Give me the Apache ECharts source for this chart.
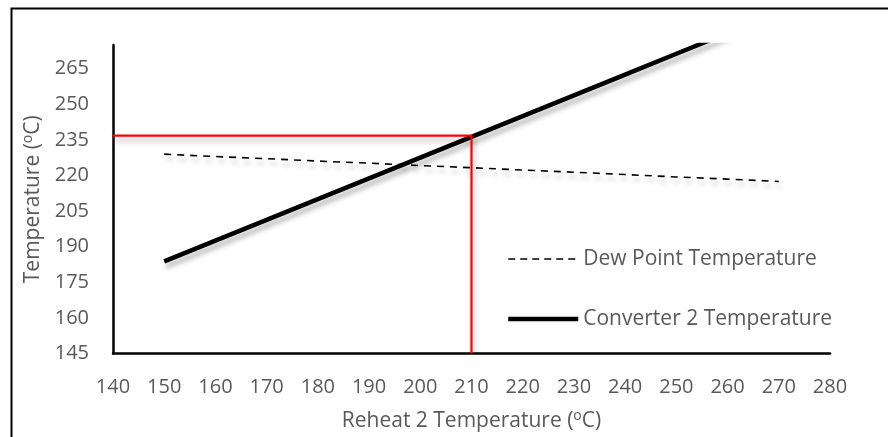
<!DOCTYPE html>
<html>
<head>
<meta charset="utf-8">
<script src="https://cdn.jsdelivr.net/npm/echarts@6/dist/echarts.min.js"></script>
<style>
html,body{margin:0;padding:0;background:#fff;}
#chart{width:888px;height:437px;}
</style>
</head>
<body>
<div id="chart"></div>
<script>
// Reheat 2 temperature (x, °C)
const reheatTemps = [150, 160, 170, 180, 190, 200, 210, 220, 230, 240, 250, 260, 270];
// Dew point temperature (°C)
const dewPoint = [229.0, 228.0, 227.1, 226.1, 225.2, 224.2, 223.3, 222.3, 221.4, 220.4, 219.4, 218.5, 217.5];
// Converter 2 temperature (°C)
const converter2 = [183.8, 192.55, 201.3, 210.05, 218.8, 227.55, 236.3, 245.05, 253.8, 262.55, 271.3, 280.05, 288.8];
// Red guide: operating point
const guideX = [140, 210, 210];
const guideY = [236.8, 236.8, 145];

const seriesNames = ['Dew Point Temperature', 'Converter 2 Temperature'];
const textColor = '#595959';
const fontFam = '"Open Sans", "Liberation Sans", sans-serif';

const pair = (xs, ys) => xs.map((x, i) => [x, ys[i]]);
const shadow = {shadowColor: 'rgba(0,0,0,0.28)', shadowBlur: 5, shadowOffsetX: 2, shadowOffsetY: 5};
const supRich = {s: {fontSize: 14, color: textColor, fontFamily: fontFam, padding: [0, 0, 10, 0]}};

const chart = echarts.init(document.getElementById('chart'), null, {renderer: 'canvas'});
chart.setOption({
  animation: false,
  backgroundColor: '#fff',
  textStyle: {fontFamily: fontFam},
  graphic: [{
    type: 'rect', left: 9, top: 6, silent: true,
    shape: {width: 1000, height: 1000},
    style: {fill: 'none', stroke: '#000', lineWidth: 2}
  }],
  grid: {left: 113, right: 58, top: 45, bottom: 81, containLabel: false},
  legend: {
    data: [
      {name: seriesNames[0], lineStyle: {width: 1.6, type: [7, 5], color: '#000'}},
      {name: seriesNames[1], lineStyle: {width: 4.5, color: '#000'}}
    ],
    orient: 'vertical',
    left: 501, top: 243,
    itemWidth: 70, itemHeight: 14, itemGap: 38,
    itemStyle: {opacity: 0},
    textStyle: {color: textColor, fontSize: 21, fontFamily: fontFam, lineHeight: 22},
    selectedMode: false
  },
  xAxis: {
    type: 'value', min: 140, max: 280, interval: 10,
    name: 'Reheat 2 Temperature ({s|o}C)',
    nameLocation: 'middle', nameGap: 56,
    nameTextStyle: {color: textColor, fontSize: 21, fontFamily: fontFam, rich: supRich},
    axisLine: {show: true, onZero: false, lineStyle: {color: '#000', width: 2.5}},
    axisTick: {show: false},
    splitLine: {show: false},
    axisLabel: {color: textColor, fontSize: 20, fontFamily: fontFam, margin: 24}
  },
  yAxis: {
    type: 'value', min: 145, max: 275, interval: 15,
    name: 'Temperature ({s|o}C)',
    nameLocation: 'middle', nameGap: 67,
    nameTextStyle: {color: textColor, fontSize: 21, fontFamily: fontFam, rich: supRich},
    axisLine: {show: true, onZero: false, lineStyle: {color: '#000', width: 2.5}},
    axisTick: {show: false},
    splitLine: {show: false},
    axisLabel: {color: textColor, fontSize: 20, fontFamily: fontFam, margin: 24, showMaxLabel: false}
  },
  series: [
    {
      name: seriesNames[0], type: 'line', symbol: 'none', showSymbol: false,
      data: pair(reheatTemps, dewPoint),
      lineStyle: Object.assign({color: '#000', width: 1.6, type: [7, 6]}, shadow),
      itemStyle: {color: '#000'},
      z: 3
    },
    {
      name: seriesNames[1], type: 'line', symbol: 'none', showSymbol: false,
      data: pair(reheatTemps, converter2),
      lineStyle: Object.assign({color: '#000', width: 4.5}, shadow),
      itemStyle: {color: '#000'},
      clip: true,
      z: 4
    },
    {
      name: 'guide', type: 'line', symbol: 'none', showSymbol: false,
      data: pair(guideX, guideY),
      lineStyle: Object.assign({color: '#ff0000', width: 2.2}, shadow),
      itemStyle: {color: '#ff0000'},
      z: 5
    }
  ]
});
</script>
</body>
</html>
